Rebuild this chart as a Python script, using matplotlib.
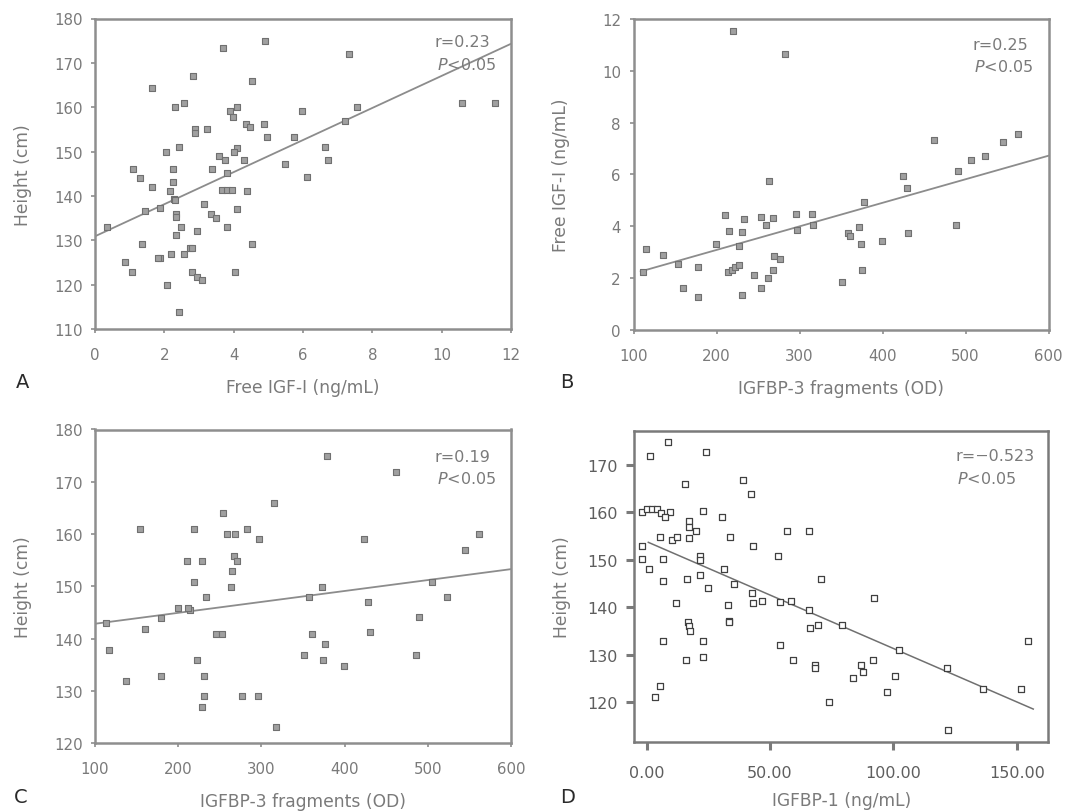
import matplotlib
matplotlib.use("Agg")
import matplotlib.pyplot as plt
from matplotlib.ticker import FormatStrFormatter

plt.rcParams['font.family'] = ['DejaVu Sans']

# ---------------- data ----------------
# Panel A: Free IGF-I (ng/mL) vs Height (cm)
a_x = [4.90, 3.70, 2.84, 4.52, 1.63, 2.31, 2.58, 3.88, 4.09, 3.97, 5.96, 2.88, 2.88, 3.24,
       4.36, 4.47, 4.87, 4.97, 5.74, 2.05, 2.43, 4.09, 4.01, 3.59, 3.75, 4.30, 5.48, 6.11,
       1.09, 1.30, 2.26, 3.37, 3.82, 1.63, 2.26, 2.16, 3.65, 3.80, 3.94, 4.39, 2.28, 2.31,
       1.44, 1.88, 2.34, 2.34, 3.14, 3.34, 3.49, 4.09, 0.36, 2.47, 2.93, 2.34, 3.80, 1.35,
       4.52, 2.18, 2.57, 2.74, 2.79, 1.88, 1.83, 0.87, 1.06, 2.79, 2.93, 3.08, 4.04, 2.09,
       2.43, 7.34, 7.56, 7.21, 6.63, 6.73, 10.60, 11.53]
a_y = [175.0, 173.3, 167.1, 166.0, 164.3, 160.0, 161.0, 159.2, 160.0, 157.7, 159.2, 155.1, 154.2, 155.1,
       156.2, 155.5, 156.2, 153.2, 153.2, 150.0, 151.1, 150.9, 149.8, 149.1, 148.2, 148.2, 147.2, 144.2,
       146.1, 144.0, 146.1, 146.1, 145.2, 142.0, 143.1, 141.2, 141.3, 141.3, 141.3, 141.2, 139.3, 139.0,
       136.5, 137.3, 136.0, 135.2, 138.2, 136.0, 135.0, 137.1, 133.0, 133.0, 132.2, 131.1, 133.0, 129.1,
       129.1, 127.0, 127.0, 128.2, 128.2, 125.9, 126.0, 125.1, 122.8, 122.8, 121.7, 121.0, 122.9, 119.9,
       113.9, 172.0, 160.0, 157.0, 151.0, 148.0, 161.0, 161.0]
a_fit_x = [0.0, 12.0]
a_fit_y = [130.9, 174.3]

# Panel B: IGFBP-3 fragments (OD) vs Free IGF-I (ng/mL)
b_x = [219.5, 282.5, 263.6, 210.2, 233.1, 253.2, 268.4, 295.4, 314.7, 215.1, 230.3, 259.3,
       296.6, 315.9, 199.4, 227.1, 115.1, 135.2, 154.0, 178.1, 111.1, 269.3, 276.5, 214.2,
       218.3, 222.3, 227.5, 245.5, 268.4, 262.4, 159.3, 178.1, 230.3, 253.2,
       462.0, 563.6, 544.8, 523.5, 506.3, 490.6, 425.1, 429.9, 378.1, 358.8, 360.8, 372.0,
       373.7, 399.8, 431.1, 488.2, 375.6, 350.8]
b_y = [11.54, 10.64, 5.75, 4.44, 4.27, 4.34, 4.31, 4.47, 4.47, 3.80, 3.76, 4.04,
       3.85, 4.04, 3.31, 3.24, 3.12, 2.90, 2.54, 2.41, 2.22, 2.83, 2.73, 2.22,
       2.32, 2.41, 2.50, 2.12, 2.31, 2.00, 1.60, 1.27, 1.35, 1.60,
       7.34, 7.56, 7.24, 6.72, 6.56, 6.14, 5.95, 5.47, 4.92, 3.73, 3.63, 3.95,
       3.31, 3.41, 3.72, 4.04, 2.31, 1.83]
b_fit_x = [108.7, 600.0]
b_fit_y = [2.25, 6.72]

# Panel C: IGFBP-3 fragments (OD) vs Height (cm)
c_x = [315.5, 253.5, 154.1, 219.0, 258.3, 268.3, 283.1, 297.5, 267.1, 270.3, 210.9, 228.2,
       264.3, 219.0, 263.1, 233.1, 200.2, 214.2, 212.1, 179.0, 113.2, 160.1, 245.4, 252.3,
       117.2, 222.2, 137.3, 179.0, 231.4, 231.4, 277.0, 296.3, 228.2, 317.5,
       379.2, 461.8, 423.7, 561.9, 544.7, 372.5, 357.6, 504.7, 428.5, 523.4, 489.4, 361.2,
       430.5, 376.4, 351.2, 373.7, 399.3, 486.4]
c_y = [165.9, 164.0, 161.0, 161.0, 160.0, 160.0, 161.0, 159.1, 155.9, 154.9, 154.9, 154.9,
       152.9, 150.9, 149.9, 147.9, 145.8, 145.4, 145.8, 143.9, 143.0, 141.9, 140.9, 140.9,
       137.8, 136.0, 132.0, 132.9, 132.9, 129.1, 129.1, 129.1, 126.9, 123.1,
       175.0, 171.8, 159.1, 160.0, 157.0, 149.9, 148.0, 150.9, 147.0, 148.0, 144.1, 140.9,
       141.3, 138.9, 136.9, 136.0, 134.8, 136.9]
c_fit_x = [102.0, 600.0]
c_fit_y = [142.9, 153.3]

# Panel D: IGFBP-1 (ng/mL) vs Height (cm)
d_x = [8.8, 1.4, 23.9, 39.2, 42.3, 15.5, -2.0, 0.3, 2.0, 4.1, 5.8, 9.5, 7.4, 23.0, 30.4,
       17.2, 17.2, 19.9, 17.2, 33.8, 5.4, 10.4, 12.4, 56.8, 65.8, 43.2, -2.0, 53.1, 21.6,
       21.6, -2.0, 6.5, 1.1, 31.4, 21.6, 16.2, 6.5, 25.0, 35.4, 42.6, 43.0, 46.6, 54.1,
       58.5, 33.1, 11.9, 65.8, 66.2, 69.6, 16.9, 17.2, 17.6, 33.5, 33.5, 6.5, 23.0, 54.1,
       15.8, 23.0, 59.5, 68.2, 68.2, 5.4, 3.6,
       70.5, 92.1, 79.0, 102.4, 91.9, 86.9, 87.8, 83.8, 100.7, 97.6, 74.0, 121.6, 136.5,
       151.6, 154.7, 122.3]
d_y = [174.9, 171.8, 172.8, 166.9, 163.9, 166.0, 160.0, 160.7, 160.7, 160.7, 159.8, 160.0,
       159.0, 160.4, 159.0, 158.1, 157.0, 156.0, 154.6, 154.9, 154.9, 154.2, 154.8, 156.0,
       156.0, 153.0, 153.0, 150.9, 150.8, 149.9, 150.1, 150.1, 148.0, 148.1, 146.8, 145.9,
       145.5, 144.0, 144.9, 143.0, 140.9, 141.4, 141.1, 141.3, 140.6, 141.0, 139.5, 135.6,
       136.2, 137.0, 136.0, 135.1, 137.2, 136.9, 133.0, 133.0, 132.1, 129.0, 129.5, 129.0,
       127.8, 127.2, 123.4, 121.1,
       146.0, 141.9, 136.2, 131.1, 129.0, 127.8, 126.4, 125.1, 125.5, 122.1, 120.0, 127.3,
       122.8, 122.8, 133.0, 114.1]
d_fit_x = [0.7, 156.7]
d_fit_y = [153.7, 118.6]

stats_text = [("r=0.23", "0.05"), ("r=0.25", "0.05"), ("r=0.19", "0.05"), ("r=\u22120.523", "0.05")]

# ---------------- layout ----------------
W, H = 1068, 812
fig = plt.figure(figsize=(W / 100, H / 100), dpi=100)


def rect(l, t, r, b):
    return [l / W, 1 - b / H, (r - l) / W, (b - t) / H]


axA = fig.add_axes(rect(95, 19.5, 511, 330))
axB = fig.add_axes(rect(633.5, 20, 1048.5, 330.7))
axC = fig.add_axes(rect(95, 430.5, 511, 744.3))
axD = fig.add_axes(rect(634, 431.7, 1048.3, 743.3))

gray_txt = '#7a7a7a'
spine_c = '#8e8e8e'


def style(ax, tick_c, spine_col, tlen, twidth):
    for s in ax.spines.values():
        s.set_color(spine_col)
        s.set_linewidth(1.8)
    ax.tick_params(axis='both', direction='out', length=tlen, width=twidth,
                   color=spine_col, labelcolor=tick_c, labelsize=10.8)
    ax.tick_params(axis='x', pad=10)
    ax.tick_params(axis='y', pad=6)


def panel(ax, x, y, fx, fy, xlim, ylim, xticks, yticks, xlabel, ylabel,
          stat, stat_pos, letter, letter_pos, hollow=False):
    if hollow:
        ax.scatter(x, y, marker='s', s=24, facecolors='white', edgecolors='#404040',
                   linewidths=0.9, zorder=3)
        ax.plot(fx, fy, color='#707070', lw=1.1, zorder=2)
        style(ax, '#5e5e5e', '#7a7a7a', 6, 2.2)
    else:
        ax.scatter(x, y, marker='s', s=17, facecolors='#a0a0a0', edgecolors='#707070',
                   linewidths=0.8, zorder=3)
        ax.plot(fx, fy, color='#8c8c8c', lw=1.3, zorder=2)
        style(ax, gray_txt, spine_c, 3, 1.2)
    ax.set_xlim(xlim)
    ax.set_ylim(ylim)
    ax.set_xticks(xticks)
    ax.set_yticks(yticks)
    ax.set_xlabel(xlabel, fontsize=12.3, color=gray_txt, va='center')
    ax.set_ylabel(ylabel, fontsize=12.3, color=gray_txt, va='center', ha='center')
    bb = ax.get_position()
    hpx = bb.height * H
    wpx = bb.width * W
    ax.xaxis.set_label_coords(0.5, -58 / hpx)
    ax.yaxis.set_label_coords(-72 / wpx, 0.5)
    rx, ry = stat_pos
    ax.text(1 - rx / wpx, 1 - ry / hpx, stat[0], transform=ax.transAxes,
            ha='left', va='center', fontsize=11.5, color=gray_txt)
    ax.text(1 - (rx - 2) / wpx, 1 - (ry + 22) / hpx, "$P$<" + stat[1], transform=ax.transAxes,
            ha='left', va='center', fontsize=11.5, color=gray_txt)
    fig.text(letter_pos[0] / W, 1 - letter_pos[1] / H, letter, fontsize=14,
             color='#2a2a2a', ha='left', va='center')


panel(axA, a_x, a_y, a_fit_x, a_fit_y, (0, 12), (110, 180), range(0, 13, 2), range(110, 181, 10),
      "Free IGF-I (ng/mL)", "Height (cm)", stats_text[0], (76, 23), "A", (16, 383))
panel(axB, b_x, b_y, b_fit_x, b_fit_y, (100, 600), (0, 12), range(100, 601, 100), range(0, 13, 2),
      "IGFBP-3 fragments (OD)", "Free IGF-I (ng/mL)", stats_text[1], (76, 25), "B", (560, 383))
panel(axC, c_x, c_y, c_fit_x, c_fit_y, (100, 600), (120, 180), range(100, 601, 100), range(120, 181, 10),
      "IGFBP-3 fragments (OD)", "Height (cm)", stats_text[2], (76, 27), "C", (14, 798))
panel(axD, d_x, d_y, d_fit_x, d_fit_y, (-5.1, 162.8), (111.6, 177.2), [0, 50, 100, 150],
      range(120, 171, 10), "IGFBP-1 (ng/mL)", "Height (cm)", stats_text[3], (93, 25), "D", (560, 798),
      hollow=True)
axD.xaxis.set_major_formatter(FormatStrFormatter('%.2f'))
axD.tick_params(axis='both', labelsize=11.5)

fig.savefig("out.png", dpi=100, facecolor='white')
